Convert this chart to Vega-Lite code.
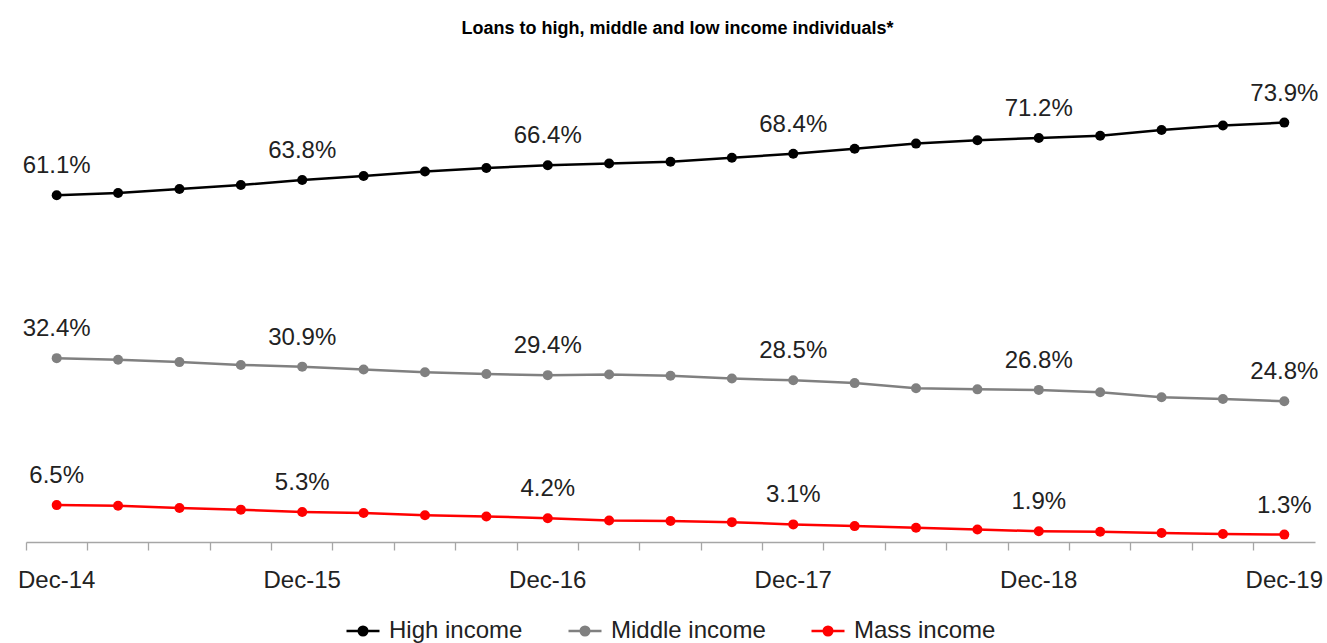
{
  "$schema": "https://vega.github.io/schema/vega-lite/v6.json",
  "width": 1289,
  "height": 454,
  "autosize": "none",
  "padding": {"left": 26, "top": 88, "right": 12, "bottom": 101},
  "background": "white",
  "title": {"text": "Loans to high, middle and low income individuals*", "font": "Liberation Sans", "fontSize": 18, "fontWeight": "bold", "color": "#000000", "anchor": "middle", "dx": 7, "offset": 44},
  "config": {"view": {"stroke": null}, "font": "Liberation Sans"},
  "data": {"values": [
    {"q":"Dec-14","s":"High income","v":0.611},{"q":"Mar-15","s":"High income","v":0.615},{"q":"Jun-15","s":"High income","v":0.622},{"q":"Sep-15","s":"High income","v":0.629},{"q":"Dec-15","s":"High income","v":0.638},{"q":"Mar-16","s":"High income","v":0.645},{"q":"Jun-16","s":"High income","v":0.653},{"q":"Sep-16","s":"High income","v":0.659},{"q":"Dec-16","s":"High income","v":0.664},{"q":"Mar-17","s":"High income","v":0.667},{"q":"Jun-17","s":"High income","v":0.670},{"q":"Sep-17","s":"High income","v":0.677},{"q":"Dec-17","s":"High income","v":0.684},{"q":"Mar-18","s":"High income","v":0.693},{"q":"Jun-18","s":"High income","v":0.702},{"q":"Sep-18","s":"High income","v":0.708},{"q":"Dec-18","s":"High income","v":0.712},{"q":"Mar-19","s":"High income","v":0.716},{"q":"Jun-19","s":"High income","v":0.726},{"q":"Sep-19","s":"High income","v":0.734},{"q":"Dec-19","s":"High income","v":0.739},
    {"q":"Dec-14","s":"Middle income","v":0.324},{"q":"Mar-15","s":"Middle income","v":0.321},{"q":"Jun-15","s":"Middle income","v":0.317},{"q":"Sep-15","s":"Middle income","v":0.312},{"q":"Dec-15","s":"Middle income","v":0.309},{"q":"Mar-16","s":"Middle income","v":0.304},{"q":"Jun-16","s":"Middle income","v":0.299},{"q":"Sep-16","s":"Middle income","v":0.296},{"q":"Dec-16","s":"Middle income","v":0.294},{"q":"Mar-17","s":"Middle income","v":0.295},{"q":"Jun-17","s":"Middle income","v":0.293},{"q":"Sep-17","s":"Middle income","v":0.288},{"q":"Dec-17","s":"Middle income","v":0.285},{"q":"Mar-18","s":"Middle income","v":0.280},{"q":"Jun-18","s":"Middle income","v":0.271},{"q":"Sep-18","s":"Middle income","v":0.269},{"q":"Dec-18","s":"Middle income","v":0.268},{"q":"Mar-19","s":"Middle income","v":0.264},{"q":"Jun-19","s":"Middle income","v":0.255},{"q":"Sep-19","s":"Middle income","v":0.252},{"q":"Dec-19","s":"Middle income","v":0.248},
    {"q":"Dec-14","s":"Mass income","v":0.065},{"q":"Mar-15","s":"Mass income","v":0.064},{"q":"Jun-15","s":"Mass income","v":0.060},{"q":"Sep-15","s":"Mass income","v":0.057},{"q":"Dec-15","s":"Mass income","v":0.053},{"q":"Mar-16","s":"Mass income","v":0.051},{"q":"Jun-16","s":"Mass income","v":0.047},{"q":"Sep-16","s":"Mass income","v":0.045},{"q":"Dec-16","s":"Mass income","v":0.042},{"q":"Mar-17","s":"Mass income","v":0.038},{"q":"Jun-17","s":"Mass income","v":0.037},{"q":"Sep-17","s":"Mass income","v":0.035},{"q":"Dec-17","s":"Mass income","v":0.031},{"q":"Mar-18","s":"Mass income","v":0.028},{"q":"Jun-18","s":"Mass income","v":0.025},{"q":"Sep-18","s":"Mass income","v":0.022},{"q":"Dec-18","s":"Mass income","v":0.019},{"q":"Mar-19","s":"Mass income","v":0.018},{"q":"Jun-19","s":"Mass income","v":0.016},{"q":"Sep-19","s":"Mass income","v":0.014},{"q":"Dec-19","s":"Mass income","v":0.013}
  ]},
  "encoding": {
    "x": {"field": "q", "type": "ordinal", "sort": null,
      "scale": {"type": "band", "paddingInner": 0, "paddingOuter": 0},
      "axis": {"title": null, "labelExpr": "indexof(datum.value,'Dec')==0 ? datum.value : ''", "bandPosition": 0, "labelAngle": 0, "domainColor": "#a6a6a6", "tickColor": "#a6a6a6", "tickSize": 8, "domainWidth": 1.3, "tickWidth": 1.3, "labelFontSize": 24, "labelFont": "Liberation Sans", "labelColor": "#222222", "labelPadding": 18, "grid": false, "labelOverlap": false}},
    "y": {"field": "v", "type": "quantitative", "scale": {"domain": [0, 0.8]}, "axis": null},
    "color": {"field": "s", "type": "nominal", "sort": ["High income", "Middle income", "Mass income"],
      "scale": {"domain": ["High income", "Middle income", "Mass income"], "range": ["#000000", "#808080", "#ff0000"]},
      "legend": {"title": null, "orient": "none", "legendX": 319, "legendY": 525, "direction": "horizontal", "labelFontSize": 24, "labelFont": "Liberation Sans", "labelColor": "#222222", "symbolType": "M-1,0L1,0M-0.26,0A0.26,0.26 0 1,1 0.26,0A0.26,0.26 0 1,1 -0.26,0Z", "symbolSize": 1089, "symbolStrokeWidth": 2.5, "columnPadding": 40, "labelOffset": 8,
        "encode": {"symbols": {"update": {"stroke": {"scale": "color", "field": "value"}, "fill": {"scale": "color", "field": "value"}, "strokeWidth": {"value": 2.5}}}}}}
  },
  "layer": [
    {"mark": {"type": "line", "strokeWidth": 2.5}, "encoding": {}},
    {"mark": {"type": "point", "filled": true, "size": 100, "opacity": 1}, "encoding": {}},
    {"transform": [{"filter": "indexof(datum.q,'Dec')==0"}],
     "mark": {"type": "text", "dy": -29, "fontSize": 24, "font": "Liberation Sans", "baseline": "middle"},
     "encoding": {"text": {"field": "v", "format": ".1%"}, "color": {"value": "#222222"}}}
  ]
}
